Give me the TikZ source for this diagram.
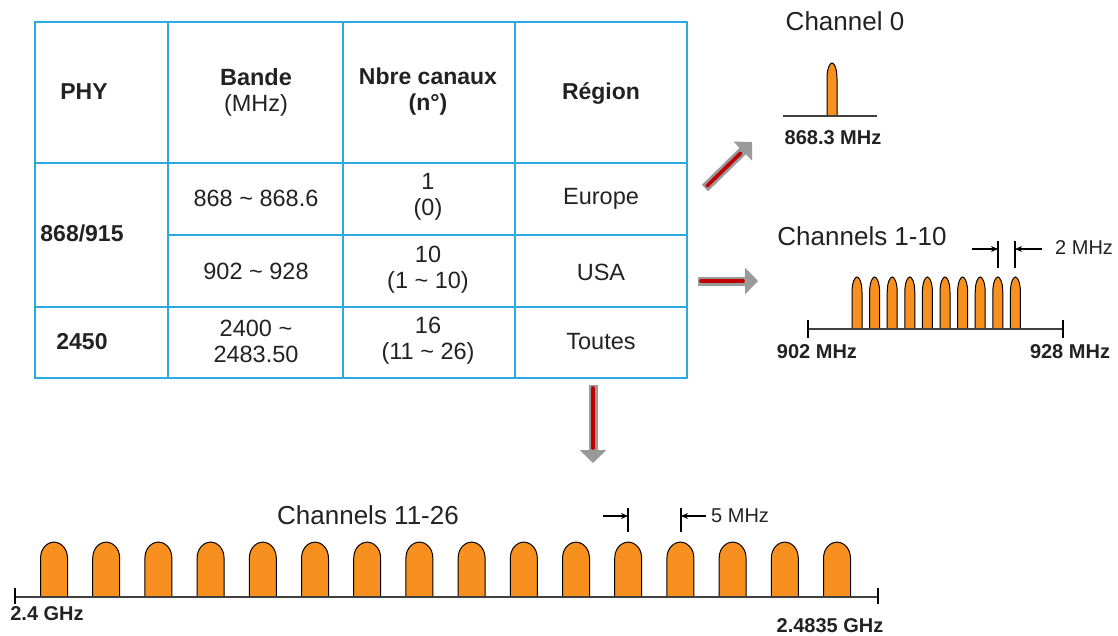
\documentclass[tikz,border=0pt]{standalone}
\usepackage{fontspec}
\setmainfont{Liberation Sans}
\usetikzlibrary{arrows.meta}

\definecolor{gridblue}{HTML}{2BA9E1}
\definecolor{lobeorange}{HTML}{F7901E}
\definecolor{inkgray}{HTML}{222222}
\definecolor{arrowgray}{HTML}{9A9A9A}
\definecolor{arrowred}{HTML}{C00000}

% one channel lobe: centre x, base y, top y, half width
\newcommand\chanlobe[4]{%
  \filldraw[lobe]
    ({#1-#4},#2) -- ({#1-#4},{#3+0.3*(#2-#3)})
    .. controls ({#1-#4},{#3+0.08*(#2-#3)}) and ({#1-0.35*#4},#3) .. ({#1},#3)
    .. controls ({#1+0.35*#4},#3) and ({#1+#4},{#3+0.08*(#2-#3)}) .. ({#1+#4},{#3+0.3*(#2-#3)})
    -- ({#1+#4},#2) -- cycle;}

\begin{document}
\begin{tikzpicture}[x=1pt,y=-1pt,
  grid/.style={draw=gridblue,line width=1.6pt},
  lobe/.style={fill=lobeorange,draw=black,line width=1pt},
  axis/.style={draw=black!75,line width=1.8pt},
  tick/.style={draw=black,line width=1.4pt},
  dim/.style={draw=black,line width=1.1pt},
  dimarrow/.style={draw=black,line width=1.1pt,-{Stealth[length=7pt,width=6pt]}},
  cell/.style={text=inkgray,align=center,font=\fontsize{23.5}{26}\selectfont,inner sep=0pt},
  cellb/.style={cell,font=\fontsize{23}{26}\selectfont\bfseries},
  title/.style={text=inkgray,font=\fontsize{26}{30}\selectfont,inner sep=0pt},
  freq/.style={text=inkgray,font=\fontsize{20}{24}\selectfont\bfseries,inner sep=0pt},
  dimlabel/.style={text=inkgray,font=\fontsize{20}{24}\selectfont,inner sep=0pt},
  fatshaft/.style={draw=arrowgray,line width=9pt,-{Triangle[length=13pt,width=26pt]}},
  redcore/.style={draw=arrowred,line width=3.6pt,line cap=round},
]
\useasboundingbox (0,0) rectangle (1118,635);

% ---------------- table ----------------
\draw[grid] (35,22) rectangle (687,378);
\draw[grid] (35,163) -- (687,163);
\draw[grid] (168,235) -- (687,235);
\draw[grid] (35,307) -- (687,307);
\draw[grid] (168,22) -- (168,378);
\draw[grid] (343,22) -- (343,378);
\draw[grid] (515,22) -- (515,378);

\node[cellb] (hphy) at (84,92) {PHY};
\node[cell] (hband) at (256,92) {\textbf{Bande}\\(MHz)};
\node[cellb] (hnb) at (428,92) {Nbre canaux\\(n°)};
\node[cellb] (hreg) at (601,93) {Région};

\node[cellb] (p868) at (82,233) {868/915};
\node[cell] (b868) at (256,198) {868 \~{} 868.6};
\node[cell] (n868) at (428,197) {1\\(0)};
\node[cell] (r868) at (601,199) {Europe};

\node[cell] (b915) at (256,271) {902 \~{} 928};
\node[cell] (n915) at (428,270) {10\\(1 \~{} 10)};
\node[cell] (r915) at (601,272) {USA};

\node[cellb] (p2450) at (82,342) {2450};
\node[cell] (b2450) at (256,341) {2400 \~{}\\2483.50};
\node[cell] (n2450) at (428,341) {16\\(11 \~{} 26)};
\node[cell] (r2450) at (601,342) {Toutes};

% ---------------- arrows out of the table ----------------
\coordinate (eutail) at (705,188);
\coordinate (euhead) at (752,142);
\coordinate (ustail) at (698,281);
\coordinate (ushead) at (758,281);
\coordinate (wwtail) at (593,385);
\coordinate (wwhead) at (593,463);
\draw[fatshaft] (eutail) -- (euhead);
\draw[redcore,shorten >=16pt,shorten <=3pt] (eutail) -- (euhead);
\draw[fatshaft] (ustail) -- (ushead);
\draw[redcore,shorten >=15pt,shorten <=3pt] (ustail) -- (ushead);
\draw[fatshaft] (wwtail) -- (wwhead);
\draw[redcore,shorten >=15pt,shorten <=3pt] (wwtail) -- (wwhead);

% ---------------- channel 0 ----------------
\node[title] (t0) at (845,21) {Channel 0};
\chanlobe{832}{116}{63}{5}
\draw[axis] (783,116) -- (877,116);
\node[freq] (f0) at (833,138) {868.3 MHz};

% ---------------- channels 1-10 ----------------
\node[title] (t110) at (862,236) {Channels 1-10};
\foreach \k in {0,...,9} {
  \chanlobe{857+17.6*\k}{329}{277}{5}
}
\draw[axis] (808,329) -- (1063,329);
\draw[tick] (808,320) -- (808,338);
\draw[tick] (1063,320) -- (1063,338);
\node[freq] (f902) at (817,352) {902 MHz};
\node[freq] (f928) at (1070,352) {928 MHz};
\draw[dim] (998,241) -- (998,268);
\draw[dim] (1015,241) -- (1015,268);
\coordinate (a2l) at (972,249);
\coordinate (a2r) at (1042,249);
\coordinate (a2lt) at (998,249);
\coordinate (a2rt) at (1015,249);
\draw[dimarrow] (a2l) -- (a2lt);
\draw[dimarrow] (a2r) -- (a2rt);
\node[dimlabel,anchor=west] (d2) at (1055,248) {2 MHz};

% ---------------- channels 11-26 ----------------
\node[title] (t1126) at (368,515) {Channels 11-26};
\foreach \k in {0,...,15} {
  \chanlobe{54+52.2*\k}{597}{542}{13.5}
}
\draw[axis] (15,597) -- (878,597);
\draw[tick] (15,588) -- (15,604);
\draw[tick] (878,588) -- (878,604);
\node[freq] (f24) at (47,614) {2.4 GHz};
\node[freq] (f2483) at (830,626) {2.4835 GHz};
\draw[dim] (628,508) -- (628,532);
\draw[dim] (681,508) -- (681,532);
\coordinate (a5l) at (603,516);
\coordinate (a5r) at (706,516);
\coordinate (a5lt) at (628,516);
\coordinate (a5rt) at (681,516);
\draw[dimarrow] (a5l) -- (a5lt);
\draw[dimarrow] (a5r) -- (a5rt);
\node[dimlabel,anchor=west] (d5) at (711,516) {5 MHz};
\end{tikzpicture}
\end{document}
